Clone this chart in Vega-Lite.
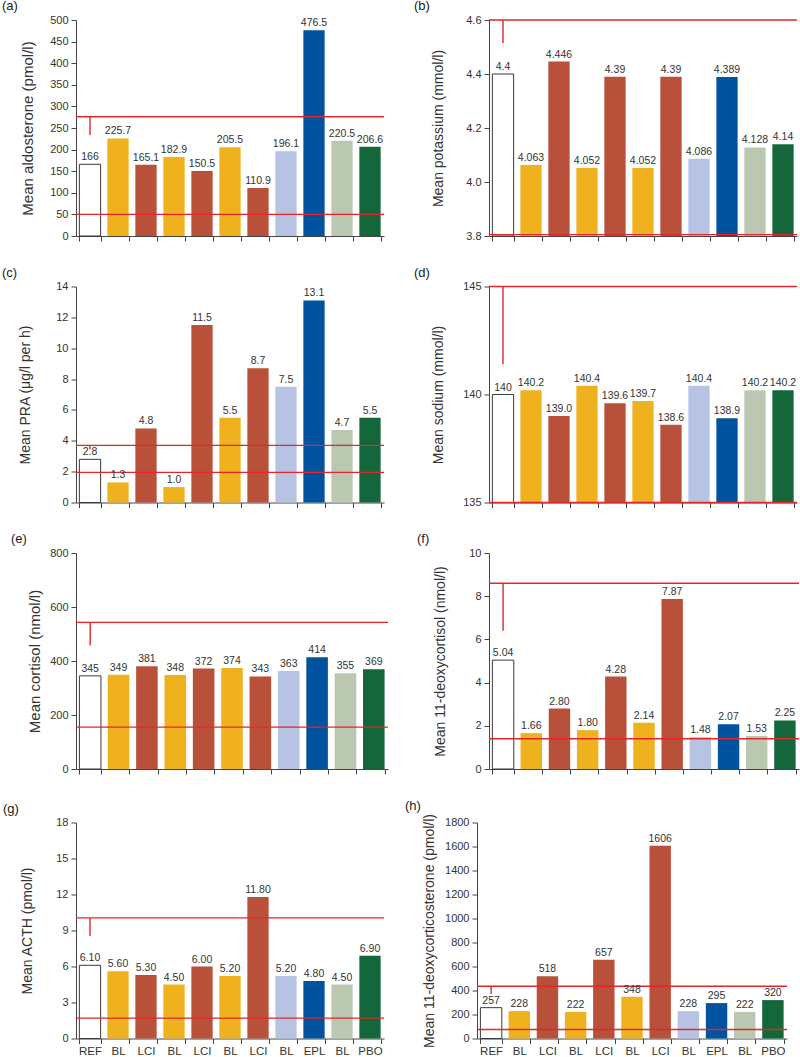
{
  "$schema": "https://vega.github.io/schema/vega-lite/v6.json",
  "padding": {"left": 2, "top": 0, "right": 0, "bottom": 0},
  "background": "white",
  "config": {
    "view": {"stroke": null},
    "font": "Liberation Sans",
    "title": {"anchor": "start", "frame": "group", "fontSize": 13, "fontWeight": "normal", "font": "Liberation Sans", "color": "#222", "offset": 0, "dy": 3},
    "axis": {"grid": false, "domainColor": "#444", "tickColor": "#444", "labelColor": "#333", "titleColor": "#333", "labelFont": "Liberation Sans", "titleFont": "Liberation Sans", "labelFontSize": 11, "titleFontSize": 14, "titleFontWeight": "normal", "tickSize": 5},
    "axisY": {"labelPadding": 3, "format": "d", "labelOverlap": false},
    "axisX": {"tickBand": "extent", "labels": false, "title": null, "labelAngle": 0, "labelFontSize": 11.5, "labelPadding": 2, "labelExpr": "isString(datum.value) ? replace(datum.value, regexp('[0-9]+$'), '') : ''"},
    "bar": {"strokeWidth": 1},
    "rule": {"color": "#E2262B", "strokeWidth": 1.4},
    "text": {"baseline": "bottom", "dy": -2, "fontSize": 10.5, "fill": "#333", "font": "Liberation Sans"}
  },
  "datasets": {
    "bars": [
      {"p": "a", "slot": "REF", "v": 166, "lab": "166"},
      {"p": "a", "slot": "BL1", "v": 225.7, "lab": "225.7"},
      {"p": "a", "slot": "LCI1", "v": 165.1, "lab": "165.1"},
      {"p": "a", "slot": "BL2", "v": 182.9, "lab": "182.9"},
      {"p": "a", "slot": "LCI2", "v": 150.5, "lab": "150.5"},
      {"p": "a", "slot": "BL3", "v": 205.5, "lab": "205.5"},
      {"p": "a", "slot": "LCI3", "v": 110.9, "lab": "110.9"},
      {"p": "a", "slot": "BL4", "v": 196.1, "lab": "196.1"},
      {"p": "a", "slot": "EPL", "v": 476.5, "lab": "476.5"},
      {"p": "a", "slot": "BL5", "v": 220.5, "lab": "220.5"},
      {"p": "a", "slot": "PBO", "v": 206.6, "lab": "206.6"},
      {"p": "b", "slot": "REF", "v": 4.4, "lab": "4.4"},
      {"p": "b", "slot": "BL1", "v": 4.063, "lab": "4.063"},
      {"p": "b", "slot": "LCI1", "v": 4.446, "lab": "4.446"},
      {"p": "b", "slot": "BL2", "v": 4.052, "lab": "4.052"},
      {"p": "b", "slot": "LCI2", "v": 4.39, "lab": "4.39"},
      {"p": "b", "slot": "BL3", "v": 4.052, "lab": "4.052"},
      {"p": "b", "slot": "LCI3", "v": 4.39, "lab": "4.39"},
      {"p": "b", "slot": "BL4", "v": 4.086, "lab": "4.086"},
      {"p": "b", "slot": "EPL", "v": 4.389, "lab": "4.389"},
      {"p": "b", "slot": "BL5", "v": 4.128, "lab": "4.128"},
      {"p": "b", "slot": "PBO", "v": 4.14, "lab": "4.14"},
      {"p": "c", "slot": "REF", "v": 2.8, "lab": "2.8"},
      {"p": "c", "slot": "BL1", "v": 1.3, "lab": "1.3"},
      {"p": "c", "slot": "LCI1", "v": 4.8, "lab": "4.8"},
      {"p": "c", "slot": "BL2", "v": 1.0, "lab": "1.0"},
      {"p": "c", "slot": "LCI2", "v": 11.5, "lab": "11.5"},
      {"p": "c", "slot": "BL3", "v": 5.5, "lab": "5.5"},
      {"p": "c", "slot": "LCI3", "v": 8.7, "lab": "8.7"},
      {"p": "c", "slot": "BL4", "v": 7.5, "lab": "7.5"},
      {"p": "c", "slot": "EPL", "v": 13.1, "lab": "13.1"},
      {"p": "c", "slot": "BL5", "v": 4.7, "lab": "4.7"},
      {"p": "c", "slot": "PBO", "v": 5.5, "lab": "5.5"},
      {"p": "d", "slot": "REF", "v": 140, "lab": "140"},
      {"p": "d", "slot": "BL1", "v": 140.2, "lab": "140.2"},
      {"p": "d", "slot": "LCI1", "v": 139.0, "lab": "139.0"},
      {"p": "d", "slot": "BL2", "v": 140.4, "lab": "140.4"},
      {"p": "d", "slot": "LCI2", "v": 139.6, "lab": "139.6"},
      {"p": "d", "slot": "BL3", "v": 139.7, "lab": "139.7"},
      {"p": "d", "slot": "LCI3", "v": 138.6, "lab": "138.6"},
      {"p": "d", "slot": "BL4", "v": 140.4, "lab": "140.4"},
      {"p": "d", "slot": "EPL", "v": 138.9, "lab": "138.9"},
      {"p": "d", "slot": "BL5", "v": 140.2, "lab": "140.2"},
      {"p": "d", "slot": "PBO", "v": 140.2, "lab": "140.2"},
      {"p": "e", "slot": "REF", "v": 345, "lab": "345"},
      {"p": "e", "slot": "BL1", "v": 349, "lab": "349"},
      {"p": "e", "slot": "LCI1", "v": 381, "lab": "381"},
      {"p": "e", "slot": "BL2", "v": 348, "lab": "348"},
      {"p": "e", "slot": "LCI2", "v": 372, "lab": "372"},
      {"p": "e", "slot": "BL3", "v": 374, "lab": "374"},
      {"p": "e", "slot": "LCI3", "v": 343, "lab": "343"},
      {"p": "e", "slot": "BL4", "v": 363, "lab": "363"},
      {"p": "e", "slot": "EPL", "v": 414, "lab": "414"},
      {"p": "e", "slot": "BL5", "v": 355, "lab": "355"},
      {"p": "e", "slot": "PBO", "v": 369, "lab": "369"},
      {"p": "f", "slot": "REF", "v": 5.04, "lab": "5.04"},
      {"p": "f", "slot": "BL1", "v": 1.66, "lab": "1.66"},
      {"p": "f", "slot": "LCI1", "v": 2.80, "lab": "2.80"},
      {"p": "f", "slot": "BL2", "v": 1.80, "lab": "1.80"},
      {"p": "f", "slot": "LCI2", "v": 4.28, "lab": "4.28"},
      {"p": "f", "slot": "BL3", "v": 2.14, "lab": "2.14"},
      {"p": "f", "slot": "LCI3", "v": 7.87, "lab": "7.87"},
      {"p": "f", "slot": "BL4", "v": 1.48, "lab": "1.48"},
      {"p": "f", "slot": "EPL", "v": 2.07, "lab": "2.07"},
      {"p": "f", "slot": "BL5", "v": 1.53, "lab": "1.53"},
      {"p": "f", "slot": "PBO", "v": 2.25, "lab": "2.25"},
      {"p": "g", "slot": "REF", "v": 6.10, "lab": "6.10"},
      {"p": "g", "slot": "BL1", "v": 5.60, "lab": "5.60"},
      {"p": "g", "slot": "LCI1", "v": 5.30, "lab": "5.30"},
      {"p": "g", "slot": "BL2", "v": 4.50, "lab": "4.50"},
      {"p": "g", "slot": "LCI2", "v": 6.00, "lab": "6.00"},
      {"p": "g", "slot": "BL3", "v": 5.20, "lab": "5.20"},
      {"p": "g", "slot": "LCI3", "v": 11.80, "lab": "11.80"},
      {"p": "g", "slot": "BL4", "v": 5.20, "lab": "5.20"},
      {"p": "g", "slot": "EPL", "v": 4.80, "lab": "4.80"},
      {"p": "g", "slot": "BL5", "v": 4.50, "lab": "4.50"},
      {"p": "g", "slot": "PBO", "v": 6.90, "lab": "6.90"},
      {"p": "h", "slot": "REF", "v": 257, "lab": "257"},
      {"p": "h", "slot": "BL1", "v": 228, "lab": "228"},
      {"p": "h", "slot": "LCI1", "v": 518, "lab": "518"},
      {"p": "h", "slot": "BL2", "v": 222, "lab": "222"},
      {"p": "h", "slot": "LCI2", "v": 657, "lab": "657"},
      {"p": "h", "slot": "BL3", "v": 348, "lab": "348"},
      {"p": "h", "slot": "LCI3", "v": 1606, "lab": "1606"},
      {"p": "h", "slot": "BL4", "v": 228, "lab": "228"},
      {"p": "h", "slot": "EPL", "v": 295, "lab": "295"},
      {"p": "h", "slot": "BL5", "v": 222, "lab": "222"},
      {"p": "h", "slot": "PBO", "v": 320, "lab": "320"}
    ],
    "refs": [
      {"p": "a", "hi": 276, "lo": 50, "tick": 234},
      {"p": "b", "hi": 4.6, "lo": 3.805, "tick": 4.515},
      {"p": "c", "hi": 3.7, "lo": 1.95, "tick": 3.45},
      {"p": "d", "hi": 145, "lo": 135, "tick": 141.4},
      {"p": "e", "hi": 543, "lo": 155, "tick": 457},
      {"p": "f", "hi": 8.6, "lo": 1.4, "tick": 6.4},
      {"p": "g", "hi": 10.05, "lo": 1.7, "tick": 8.55},
      {"p": "h", "hi": 435, "lo": 75, "tick": 370}
    ]
  },
  "align": "none",
  "vconcat": [
    {
      "hconcat": [
        {
          "width": 308, "height": 216,
          "title": {"text": "(a)", "dx": -74},
          "layer": [
            {"data": {"name": "bars"}, "transform": [{"filter": "datum.p === 'a'"}], "mark": "bar",
             "encoding": {
               "x": {"field": "slot", "type": "nominal", "scale": {"domain": ["REF","BL1","LCI1","BL2","LCI2","BL3","LCI3","BL4","EPL","BL5","PBO"], "paddingInner": 0.24, "paddingOuter": 0.12}},
               "y": {"field": "v", "type": "quantitative", "scale": {"domain": [0, 500]}, "axis": {"title": "Mean aldosterone (pmol/l)", "titleFontSize": 15, "values": [0,50,100,150,200,250,300,350,400,450,500], "tickCount": 40, "labelOverlap": false, "titleX": -41}},
               "y2": {"datum": 0},
               "fill": {"field": "slot", "type": "nominal", "scale": {"domain": ["REF","BL1","LCI1","BL2","LCI2","BL3","LCI3","BL4","EPL","BL5","PBO"], "range": ["#FFFFFF","#EFB21E","#B8503A","#EFB21E","#B8503A","#EFB21E","#B8503A","#B7C3E3","#01529F","#BAC8B1","#13673A"]}, "legend": null},
               "stroke": {"condition": {"test": "datum.slot === 'REF'", "value": "#3a3a3a"}, "value": "transparent"}
             }},
            {"data": {"name": "refs"}, "transform": [{"filter": "datum.p === 'a'"}], "mark": "rule", "encoding": {"y": {"field": "hi", "type": "quantitative"}}},
            {"data": {"name": "refs"}, "transform": [{"filter": "datum.p === 'a'"}], "mark": "rule", "encoding": {"y": {"field": "lo", "type": "quantitative"}}},
            {"data": {"name": "refs"}, "transform": [{"filter": "datum.p === 'a'"}], "mark": "rule", "encoding": {"x": {"datum": "REF", "type": "nominal"}, "y": {"field": "hi", "type": "quantitative"}, "y2": {"field": "tick"}}},
            {"data": {"name": "bars"}, "transform": [{"filter": "datum.p === 'a'"}], "mark": "text", "encoding": {"x": {"field": "slot", "type": "nominal"}, "y": {"field": "v", "type": "quantitative"}, "text": {"field": "lab"}}}
          ]
        },
        {
          "width": 308, "height": 216,
          "title": {"text": "(b)", "dx": -75},
          "layer": [
            {"data": {"name": "bars"}, "transform": [{"filter": "datum.p === 'b'"}], "mark": "bar",
             "encoding": {
               "x": {"field": "slot", "type": "nominal", "scale": {"domain": ["REF","BL1","LCI1","BL2","LCI2","BL3","LCI3","BL4","EPL","BL5","PBO"], "paddingInner": 0.24, "paddingOuter": 0.12}},
               "y": {"field": "v", "type": "quantitative", "scale": {"domain": [3.8, 4.6], "zero": false}, "axis": {"title": "Mean potassium (mmol/l)", "values": [3.8,4.0,4.2,4.4,4.6], "tickCount": 40, "labelOverlap": false, "format": ".1f", "titleX": -44}},
               "y2": {"datum": 3.8},
               "fill": {"field": "slot", "type": "nominal", "scale": {"domain": ["REF","BL1","LCI1","BL2","LCI2","BL3","LCI3","BL4","EPL","BL5","PBO"], "range": ["#FFFFFF","#EFB21E","#B8503A","#EFB21E","#B8503A","#EFB21E","#B8503A","#B7C3E3","#01529F","#BAC8B1","#13673A"]}, "legend": null},
               "stroke": {"condition": {"test": "datum.slot === 'REF'", "value": "#3a3a3a"}, "value": "transparent"}
             }},
            {"data": {"name": "refs"}, "transform": [{"filter": "datum.p === 'b'"}], "mark": "rule", "encoding": {"y": {"field": "hi", "type": "quantitative"}}},
            {"data": {"name": "refs"}, "transform": [{"filter": "datum.p === 'b'"}], "mark": "rule", "encoding": {"y": {"field": "lo", "type": "quantitative"}}},
            {"data": {"name": "refs"}, "transform": [{"filter": "datum.p === 'b'"}], "mark": "rule", "encoding": {"x": {"datum": "REF", "type": "nominal"}, "y": {"field": "hi", "type": "quantitative"}, "y2": {"field": "tick"}}},
            {"data": {"name": "bars"}, "transform": [{"filter": "datum.p === 'b'"}], "mark": "text", "encoding": {"x": {"field": "slot", "type": "nominal"}, "y": {"field": "v", "type": "quantitative"}, "text": {"field": "lab"}}}
          ]
        }
      ],
      "spacing": 29
    },
    {
      "hconcat": [
        {
          "width": 308, "height": 216,
          "title": {"text": "(c)", "dx": -74},
          "layer": [
            {"data": {"name": "bars"}, "transform": [{"filter": "datum.p === 'c'"}], "mark": "bar",
             "encoding": {
               "x": {"field": "slot", "type": "nominal", "scale": {"domain": ["REF","BL1","LCI1","BL2","LCI2","BL3","LCI3","BL4","EPL","BL5","PBO"], "paddingInner": 0.24, "paddingOuter": 0.12}},
               "y": {"field": "v", "type": "quantitative", "scale": {"domain": [0, 14]}, "axis": {"title": "Mean PRA (μg/l per h)", "values": [0,2,4,6,8,10,12,14], "tickCount": 40, "labelOverlap": false, "titleX": -44}},
               "y2": {"datum": 0},
               "fill": {"field": "slot", "type": "nominal", "scale": {"domain": ["REF","BL1","LCI1","BL2","LCI2","BL3","LCI3","BL4","EPL","BL5","PBO"], "range": ["#FFFFFF","#EFB21E","#B8503A","#EFB21E","#B8503A","#EFB21E","#B8503A","#B7C3E3","#01529F","#BAC8B1","#13673A"]}, "legend": null},
               "stroke": {"condition": {"test": "datum.slot === 'REF'", "value": "#3a3a3a"}, "value": "transparent"}
             }},
            {"data": {"name": "refs"}, "transform": [{"filter": "datum.p === 'c'"}], "mark": "rule", "encoding": {"y": {"field": "hi", "type": "quantitative"}}},
            {"data": {"name": "refs"}, "transform": [{"filter": "datum.p === 'c'"}], "mark": "rule", "encoding": {"y": {"field": "lo", "type": "quantitative"}}},
            {"data": {"name": "refs"}, "transform": [{"filter": "datum.p === 'c'"}], "mark": "rule", "encoding": {"x": {"datum": "REF", "type": "nominal"}, "y": {"field": "hi", "type": "quantitative"}, "y2": {"field": "tick"}}},
            {"data": {"name": "bars"}, "transform": [{"filter": "datum.p === 'c'"}], "mark": "text", "encoding": {"x": {"field": "slot", "type": "nominal"}, "y": {"field": "v", "type": "quantitative"}, "text": {"field": "lab"}}}
          ]
        },
        {
          "width": 308, "height": 216,
          "title": {"text": "(d)", "dx": -75},
          "layer": [
            {"data": {"name": "bars"}, "transform": [{"filter": "datum.p === 'd'"}], "mark": "bar",
             "encoding": {
               "x": {"field": "slot", "type": "nominal", "scale": {"domain": ["REF","BL1","LCI1","BL2","LCI2","BL3","LCI3","BL4","EPL","BL5","PBO"], "paddingInner": 0.24, "paddingOuter": 0.12}},
               "y": {"field": "v", "type": "quantitative", "scale": {"domain": [135, 145], "zero": false}, "axis": {"title": "Mean sodium (mmol/l)", "values": [135,140,145], "tickCount": 40, "labelOverlap": false, "titleX": -44}},
               "y2": {"datum": 135},
               "fill": {"field": "slot", "type": "nominal", "scale": {"domain": ["REF","BL1","LCI1","BL2","LCI2","BL3","LCI3","BL4","EPL","BL5","PBO"], "range": ["#FFFFFF","#EFB21E","#B8503A","#EFB21E","#B8503A","#EFB21E","#B8503A","#B7C3E3","#01529F","#BAC8B1","#13673A"]}, "legend": null},
               "stroke": {"condition": {"test": "datum.slot === 'REF'", "value": "#3a3a3a"}, "value": "transparent"}
             }},
            {"data": {"name": "refs"}, "transform": [{"filter": "datum.p === 'd'"}], "mark": "rule", "encoding": {"y": {"field": "hi", "type": "quantitative"}}},
            {"data": {"name": "refs"}, "transform": [{"filter": "datum.p === 'd'"}], "mark": "rule", "encoding": {"y": {"field": "lo", "type": "quantitative"}}},
            {"data": {"name": "refs"}, "transform": [{"filter": "datum.p === 'd'"}], "mark": "rule", "encoding": {"x": {"datum": "REF", "type": "nominal"}, "y": {"field": "hi", "type": "quantitative"}, "y2": {"field": "tick"}}},
            {"data": {"name": "bars"}, "transform": [{"filter": "datum.p === 'd'"}], "mark": "text", "encoding": {"x": {"field": "slot", "type": "nominal"}, "y": {"field": "v", "type": "quantitative"}, "text": {"field": "lab"}}}
          ]
        }
      ],
      "spacing": 29
    },
    {
      "hconcat": [
        {
          "width": 312, "height": 216,
          "title": {"text": "(e)", "dx": -65},
          "layer": [
            {"data": {"name": "bars"}, "transform": [{"filter": "datum.p === 'e'"}], "mark": "bar",
             "encoding": {
               "x": {"field": "slot", "type": "nominal", "scale": {"domain": ["REF","BL1","LCI1","BL2","LCI2","BL3","LCI3","BL4","EPL","BL5","PBO"], "paddingInner": 0.24, "paddingOuter": 0.12}},
               "y": {"field": "v", "type": "quantitative", "scale": {"domain": [0, 800]}, "axis": {"title": "Mean cortisol (nmol/l)", "titleFontSize": 15, "values": [0,200,400,600,800], "tickCount": 40, "labelOverlap": false, "titleX": -34}},
               "y2": {"datum": 0},
               "fill": {"field": "slot", "type": "nominal", "scale": {"domain": ["REF","BL1","LCI1","BL2","LCI2","BL3","LCI3","BL4","EPL","BL5","PBO"], "range": ["#FFFFFF","#EFB21E","#B8503A","#EFB21E","#B8503A","#EFB21E","#B8503A","#B7C3E3","#01529F","#BAC8B1","#13673A"]}, "legend": null},
               "stroke": {"condition": {"test": "datum.slot === 'REF'", "value": "#3a3a3a"}, "value": "transparent"}
             }},
            {"data": {"name": "refs"}, "transform": [{"filter": "datum.p === 'e'"}], "mark": "rule", "encoding": {"y": {"field": "hi", "type": "quantitative"}}},
            {"data": {"name": "refs"}, "transform": [{"filter": "datum.p === 'e'"}], "mark": "rule", "encoding": {"y": {"field": "lo", "type": "quantitative"}}},
            {"data": {"name": "refs"}, "transform": [{"filter": "datum.p === 'e'"}], "mark": "rule", "encoding": {"x": {"datum": "REF", "type": "nominal"}, "y": {"field": "hi", "type": "quantitative"}, "y2": {"field": "tick"}}},
            {"data": {"name": "bars"}, "transform": [{"filter": "datum.p === 'e'"}], "mark": "text", "encoding": {"x": {"field": "slot", "type": "nominal"}, "y": {"field": "v", "type": "quantitative"}, "text": {"field": "lab"}}}
          ]
        },
        {
          "width": 310, "height": 216,
          "title": {"text": "(f)", "dx": -72},
          "layer": [
            {"data": {"name": "bars"}, "transform": [{"filter": "datum.p === 'f'"}], "mark": "bar",
             "encoding": {
               "x": {"field": "slot", "type": "nominal", "scale": {"domain": ["REF","BL1","LCI1","BL2","LCI2","BL3","LCI3","BL4","EPL","BL5","PBO"], "paddingInner": 0.24, "paddingOuter": 0.12}},
               "y": {"field": "v", "type": "quantitative", "scale": {"domain": [0, 10]}, "axis": {"title": "Mean 11-deoxycortisol (nmol/l)", "values": [0,2,4,6,8,10], "tickCount": 40, "labelOverlap": false, "titleX": -42}},
               "y2": {"datum": 0},
               "fill": {"field": "slot", "type": "nominal", "scale": {"domain": ["REF","BL1","LCI1","BL2","LCI2","BL3","LCI3","BL4","EPL","BL5","PBO"], "range": ["#FFFFFF","#EFB21E","#B8503A","#EFB21E","#B8503A","#EFB21E","#B8503A","#B7C3E3","#01529F","#BAC8B1","#13673A"]}, "legend": null},
               "stroke": {"condition": {"test": "datum.slot === 'REF'", "value": "#3a3a3a"}, "value": "transparent"}
             }},
            {"data": {"name": "refs"}, "transform": [{"filter": "datum.p === 'f'"}], "mark": "rule", "encoding": {"y": {"field": "hi", "type": "quantitative"}}},
            {"data": {"name": "refs"}, "transform": [{"filter": "datum.p === 'f'"}], "mark": "rule", "encoding": {"y": {"field": "lo", "type": "quantitative"}}},
            {"data": {"name": "refs"}, "transform": [{"filter": "datum.p === 'f'"}], "mark": "rule", "encoding": {"x": {"datum": "REF", "type": "nominal"}, "y": {"field": "hi", "type": "quantitative"}, "y2": {"field": "tick"}}},
            {"data": {"name": "bars"}, "transform": [{"filter": "datum.p === 'f'"}], "mark": "text", "encoding": {"x": {"field": "slot", "type": "nominal"}, "y": {"field": "v", "type": "quantitative"}, "text": {"field": "lab"}}}
          ]
        }
      ],
      "spacing": 28
    },
    {
      "hconcat": [
        {
          "width": 308, "height": 216,
          "title": {"text": "(g)", "dx": -73},
          "layer": [
            {"data": {"name": "bars"}, "transform": [{"filter": "datum.p === 'g'"}], "mark": "bar",
             "encoding": {
               "x": {"field": "slot", "type": "nominal", "scale": {"domain": ["REF","BL1","LCI1","BL2","LCI2","BL3","LCI3","BL4","EPL","BL5","PBO"], "paddingInner": 0.24, "paddingOuter": 0.12}, "axis": {"labels": true}},
               "y": {"field": "v", "type": "quantitative", "scale": {"domain": [0, 18]}, "axis": {"title": "Mean ACTH (pmol/l)", "values": [0,3,6,9,12,15,18], "tickCount": 40, "labelOverlap": false, "titleX": -42}},
               "y2": {"datum": 0},
               "fill": {"field": "slot", "type": "nominal", "scale": {"domain": ["REF","BL1","LCI1","BL2","LCI2","BL3","LCI3","BL4","EPL","BL5","PBO"], "range": ["#FFFFFF","#EFB21E","#B8503A","#EFB21E","#B8503A","#EFB21E","#B8503A","#B7C3E3","#01529F","#BAC8B1","#13673A"]}, "legend": null},
               "stroke": {"condition": {"test": "datum.slot === 'REF'", "value": "#3a3a3a"}, "value": "transparent"}
             }},
            {"data": {"name": "refs"}, "transform": [{"filter": "datum.p === 'g'"}], "mark": "rule", "encoding": {"y": {"field": "hi", "type": "quantitative"}}},
            {"data": {"name": "refs"}, "transform": [{"filter": "datum.p === 'g'"}], "mark": "rule", "encoding": {"y": {"field": "lo", "type": "quantitative"}}},
            {"data": {"name": "refs"}, "transform": [{"filter": "datum.p === 'g'"}], "mark": "rule", "encoding": {"x": {"datum": "REF", "type": "nominal"}, "y": {"field": "hi", "type": "quantitative"}, "y2": {"field": "tick"}}},
            {"data": {"name": "bars"}, "transform": [{"filter": "datum.p === 'g'"}], "mark": "text", "encoding": {"x": {"field": "slot", "type": "nominal"}, "y": {"field": "v", "type": "quantitative"}, "text": {"field": "lab"}}}
          ]
        },
        {
          "width": 310, "height": 216,
          "title": {"text": "(h)", "dx": -72},
          "layer": [
            {"data": {"name": "bars"}, "transform": [{"filter": "datum.p === 'h'"}], "mark": "bar",
             "encoding": {
               "x": {"field": "slot", "type": "nominal", "scale": {"domain": ["REF","BL1","LCI1","BL2","LCI2","BL3","LCI3","BL4","EPL","BL5","PBO"], "paddingInner": 0.24, "paddingOuter": 0.12}, "axis": {"labels": true}},
               "y": {"field": "v", "type": "quantitative", "scale": {"domain": [0, 1800]}, "axis": {"title": "Mean 11-deoxycorticosterone (pmol/l)", "values": [0,200,400,600,800,1000,1200,1400,1600,1800], "tickCount": 40, "labelOverlap": false, "titleX": -41}},
               "y2": {"datum": 0},
               "fill": {"field": "slot", "type": "nominal", "scale": {"domain": ["REF","BL1","LCI1","BL2","LCI2","BL3","LCI3","BL4","EPL","BL5","PBO"], "range": ["#FFFFFF","#EFB21E","#B8503A","#EFB21E","#B8503A","#EFB21E","#B8503A","#B7C3E3","#01529F","#BAC8B1","#13673A"]}, "legend": null},
               "stroke": {"condition": {"test": "datum.slot === 'REF'", "value": "#3a3a3a"}, "value": "transparent"}
             }},
            {"data": {"name": "refs"}, "transform": [{"filter": "datum.p === 'h'"}], "mark": "rule", "encoding": {"y": {"field": "hi", "type": "quantitative"}}},
            {"data": {"name": "refs"}, "transform": [{"filter": "datum.p === 'h'"}], "mark": "rule", "encoding": {"y": {"field": "lo", "type": "quantitative"}}},
            {"data": {"name": "refs"}, "transform": [{"filter": "datum.p === 'h'"}], "mark": "rule", "encoding": {"x": {"datum": "REF", "type": "nominal"}, "y": {"field": "hi", "type": "quantitative"}, "y2": {"field": "tick"}}},
            {"data": {"name": "bars"}, "transform": [{"filter": "datum.p === 'h'"}], "mark": "text", "encoding": {"x": {"field": "slot", "type": "nominal"}, "y": {"field": "v", "type": "quantitative"}, "text": {"field": "lab"}}}
          ]
        }
      ],
      "spacing": 20
    }
  ],
  "spacing": 24.5
}
